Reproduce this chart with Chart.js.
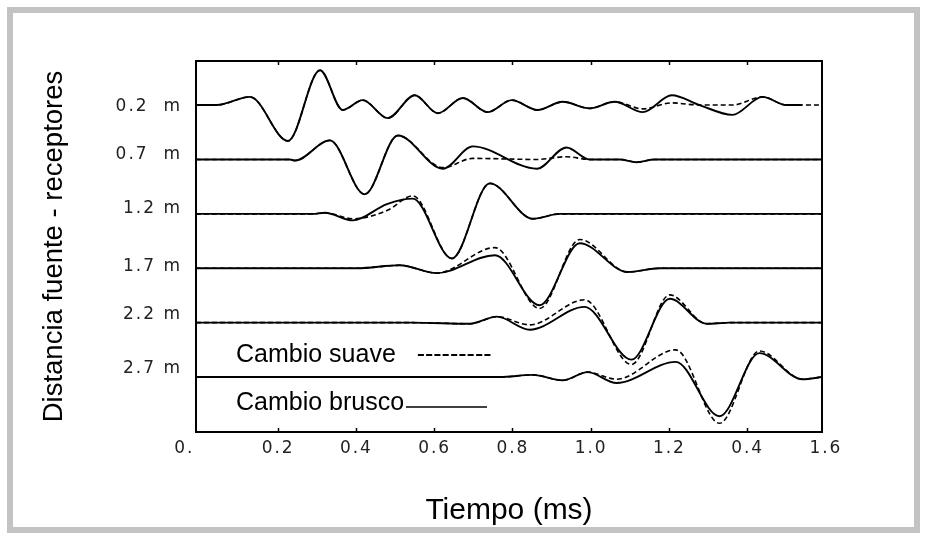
<!DOCTYPE html>
<html><head><meta charset="utf-8">
<script src="https://cdn.jsdelivr.net/npm/chart.js@4/dist/chart.umd.min.js"></script>
<style>
html,body{margin:0;padding:0;background:#fff;}
#wrap{position:relative;width:927px;height:540px;}
#frame{position:absolute;left:7px;top:7px;width:901px;height:514px;border:6px solid #c3c3c3;pointer-events:none;}
canvas{display:block;}
</style></head>
<body><div id="wrap"><canvas id="c" width="927" height="540"></canvas><div id="frame"></div></div>
<script>
// ---- data ----
const receptorLabels = ["0.2  m", "0.7  m", "1.2 m", "1.7 m", "2.2 m", "2.7 m"];
const timeTicks = [-0.04, 0.2, 0.4, 0.6, 0.8, 1.0, 1.2, 1.4, 1.6];
const timeTickLabels = ["0.", "0.2", "0.4", "0.6", "0.8", "1.0", "1.2", "0.4", "1.6"];
const topTicks = [0.2, 0.4, 0.6, 0.8, 1.0, 1.2, 1.4];

// trace 0.2 m
const t_02      = [-0.01, 0.043, 0.128, 0.225, 0.307, 0.365, 0.416, 0.480, 0.549, 0.608, 0.672, 0.735, 0.797, 0.863, 0.927, 0.996, 1.060, 1.132, 1.206, 1.277, 1.361, 1.438, 1.499, 1.538, 1.59];
const brusco_02 = [0, 0, 0.15, -0.66, 0.64, -0.09, 0.09, -0.24, 0.18, -0.15, 0.13, -0.13, 0.09, -0.09, 0.06, -0.06, 0.06, -0.13, 0.18, 0, -0.18, 0.15, 0, 0, null];
const suave_02  = [0, 0, 0.15, -0.66, 0.64, -0.09, 0.09, -0.24, 0.18, -0.15, 0.13, -0.13, 0.09, -0.09, 0.06, -0.06, 0.06, -0.07, 0.04, 0, 0, 0.15, 0, 0, 0];
// trace 0.7 m
const t_07      = [-0.01, 0.230, 0.243, 0.332, 0.421, 0.506, 0.621, 0.697, 0.861, 0.937, 0.996, 1.073, 1.116, 1.162, 1.59];
const brusco_07 = [0, 0, -0.02, 0.35, -0.64, 0.44, -0.17, 0.24, -0.17, 0.22, 0, 0, -0.05, 0, 0];
const suave_07  = [0, 0, -0.02, 0.35, -0.64, 0.44, -0.15, 0.02, 0, 0.05, 0, 0, -0.05, 0, 0];
// trace 1.2 m
const t_12      = [-0.01, 0.289, 0.319, 0.391, 0.478, 0.544, 0.644, 0.741, 0.851, 0.920, 1.59];
const brusco_12 = [0, 0, 0.02, -0.12, 0.18, 0.28, -0.82, 0.56, -0.09, 0, 0];
const suave_12  = [0, 0, 0.02, -0.09, 0.06, 0.33, -0.82, 0.56, -0.09, 0, 0];
// trace 1.7 m
const t_17      = [-0.01, 0.401, 0.511, 0.605, 0.754, 0.868, 0.971, 1.093, 1.175, 1.59];
const brusco_17 = [0, 0, 0.055, -0.09, 0.24, -0.68, 0.46, -0.07, 0, 0];
const suave_17  = [0, 0, 0.055, -0.09, 0.38, -0.74, 0.53, -0.07, 0, 0];
// trace 2.2 m
const t_22      = [-0.01, 0.544, 0.690, 0.759, 0.843, 0.983, 1.103, 1.201, 1.295, 1.354, 1.59];
const brusco_22 = [0, 0, -0.02, 0.11, -0.13, 0.29, -0.68, 0.44, -0.02, 0, 0];
const suave_22  = [0, 0, -0.02, 0.11, -0.04, 0.42, -0.77, 0.51, -0.02, 0, 0];
// trace 2.7 m
const t_27      = [-0.01, 0.766, 0.851, 0.927, 0.991, 1.065, 1.216, 1.328, 1.430, 1.540, 1.59];
const brusco_27 = [0, 0, 0.04, -0.06, 0.09, -0.11, 0.28, -0.72, 0.44, -0.04, 0];
const suave_27  = [0, 0, 0.04, -0.06, 0.09, -0.04, 0.50, -0.85, 0.48, -0.04, 0];

const traces = [
  {t: t_02, brusco: brusco_02, suave: suave_02},
  {t: t_07, brusco: brusco_07, suave: suave_07},
  {t: t_12, brusco: brusco_12, suave: suave_12},
  {t: t_17, brusco: brusco_17, suave: suave_17},
  {t: t_22, brusco: brusco_22, suave: suave_22},
  {t: t_27, brusco: brusco_27, suave: suave_27}
];

// label placement relative to each trace baseline (layout only, in pixels; + = down)
const yLabelNudge = [2, -5, -5, -2, -8, -8];
const PX_PER_UNIT = 371 / 6.82;

const datasets = [];
traces.forEach((tr, i) => {
  const mk = arr => tr.t.map((t, k) => ({x: t, y: arr[k] === null ? null : arr[k] - i})).filter(p => p.y !== null);
  datasets.push({label: 'Cambio brusco ' + receptorLabels[i], data: mk(tr.brusco), borderColor: '#000', borderWidth: 1.9});
  datasets.push({label: 'Cambio suave ' + receptorLabels[i], data: mk(tr.suave), borderColor: '#000', borderWidth: 1.6, borderDash: [5, 3]});
});

const textPlugin = {
  id: 'textPlugin',
  beforeDraw(chart) { chart.ctx.letterSpacing = '0px'; },
  afterDatasetsDraw(chart) { chart.ctx.letterSpacing = '2px'; },
  afterDraw(chart) {
    const ctx = chart.ctx;
    ctx.save();
    ctx.letterSpacing = '0px';
    ctx.fillStyle = '#000';
    ctx.font = '25px "Liberation Sans", Arial, sans-serif';
    ctx.textAlign = 'left';
    ctx.textBaseline = 'alphabetic';
    ctx.fillText('Cambio suave   ---------', 236, 362);
    ctx.fillText('Cambio brusco', 236, 410);
    ctx.strokeStyle = '#000';
    ctx.lineWidth = 1.5;
    ctx.beginPath();
    ctx.moveTo(406, 407);
    ctx.lineTo(487, 407);
    ctx.stroke();
    ctx.restore();
  }
};

const tickFont = {family: 'DejaVu Sans', size: 17};
const lastTick = timeTicks.length - 1;

new Chart(document.getElementById('c'), {
  type: 'scatter',
  data: {datasets},
  plugins: [textPlugin],
  options: {
    responsive: false,
    animation: false,
    devicePixelRatio: 1,
    layout: {padding: 0},
    showLine: true,
    plugins: {legend: {display: false}, tooltip: {enabled: false}},
    elements: {
      point: {radius: 0, hoverRadius: 0},
      line: {cubicInterpolationMode: 'monotone', fill: false}
    },
    scales: {
      x: {
        type: 'linear', position: 'bottom', min: -0.01, max: 1.59,
        afterBuildTicks: s => { s.ticks = timeTicks.map(v => ({value: v})); },
        afterFit: s => { s.height = 108; },
        ticks: {z: 1, padding: 10, color: '#222', font: tickFont, maxRotation: 0, autoSkip: false,
                callback: (v, i) => timeTickLabels[i]},
        grid: {drawOnChartArea: false, drawTicks: true, tickLength: -4, tickWidth: 1.5,
               tickColor: c => (c.index === 0 || c.index === lastTick) ? 'rgba(0,0,0,0)' : '#000'},
        border: {display: true, color: '#000', width: 2},
        title: {display: true, text: 'Tiempo (ms)', color: '#000',
                font: {family: 'Liberation Sans', size: 30}, padding: {top: 0, bottom: 11}}
      },
      x2: {
        type: 'linear', position: 'top', min: -0.01, max: 1.59,
        afterBuildTicks: s => { s.ticks = topTicks.map(v => ({value: v})); },
        afterFit: s => { s.height = 61; },
        ticks: {display: false},
        grid: {drawOnChartArea: false, drawTicks: true, tickLength: -4, color: '#000', tickWidth: 1.5},
        border: {display: true, color: '#000', width: 2}
      },
      y: {
        type: 'linear', position: 'left', min: -6.01, max: 0.81,
        afterBuildTicks: s => { s.ticks = receptorLabels.map((_, i) => ({value: -i - yLabelNudge[i] / PX_PER_UNIT})); },
        afterFit: s => { s.width = 196; },
        ticks: {z: 1, padding: 14, color: '#222', font: tickFont, autoSkip: false,
                callback: (v, i) => receptorLabels[i]},
        grid: {drawOnChartArea: false, drawTicks: false},
        border: {display: true, color: '#000', width: 2},
        title: {display: true, text: 'Distancia fuente - receptores', color: '#000',
                font: {family: 'Liberation Sans', size: 27.5}, padding: {top: 38, bottom: 0}}
      },
      y2: {
        type: 'linear', position: 'right', min: -6.01, max: 0.81,
        afterFit: s => { s.width = 105; },
        ticks: {display: false},
        grid: {drawOnChartArea: false, drawTicks: false},
        border: {display: true, color: '#000', width: 2}
      }
    }
  }
});
</script>
</body></html>
